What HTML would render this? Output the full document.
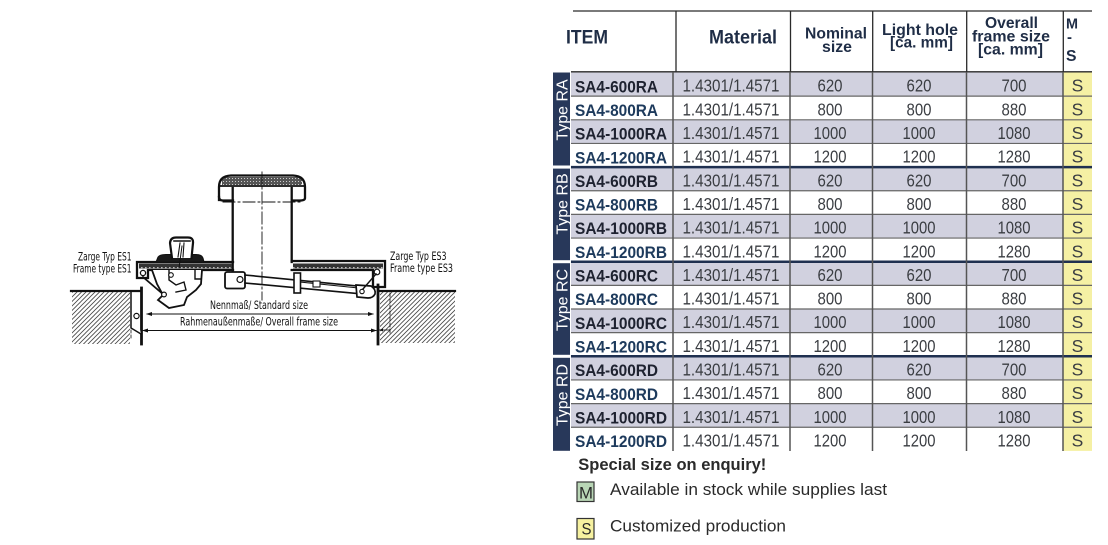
<!DOCTYPE html>
<html><head><meta charset="utf-8"><style>
html,body{margin:0;padding:0;background:#fff;}
svg{display:block;}
.hd{font-family:"Liberation Sans",Arial,sans-serif;font-weight:bold;fill:#1f2d46;}
.it{font-family:"Liberation Sans",Arial,sans-serif;font-weight:bold;font-size:16.5px;}
.nm{font-family:"Liberation Sans",Arial,sans-serif;font-size:17.5px;fill:#3a3d42;}
.dr{font-family:"DejaVu Sans Condensed","Liberation Sans Narrow","Liberation Sans",sans-serif;font-size:11.5px;fill:#111;}
.lg{font-family:"Liberation Sans",Arial,sans-serif;fill:#2a2a2a;}
</style></head><body>
<svg width="1108" height="545" viewBox="0 0 1108 545" xmlns="http://www.w3.org/2000/svg">
<defs>
<pattern id="h" patternUnits="userSpaceOnUse" width="4.5" height="4.5">
<path d="M-1,1 L1,-1 M0,4.5 L4.5,0 M3.5,5.5 L5.5,3.5" stroke="#444" stroke-width="0.8"/>
</pattern>
<pattern id="b" patternUnits="userSpaceOnUse" width="4" height="5">
<rect width="4" height="5" fill="#333"/>
<rect x="1" y="2" width="1.6" height="1.2" fill="#bbb"/>
</pattern>
<pattern id="c" patternUnits="userSpaceOnUse" width="3" height="3">
<rect width="3" height="3" fill="#555"/>
<rect x="1" y="1" width="1" height="1" fill="#ccc"/>
</pattern>
</defs>

<!-- ================= DRAWING ================= -->
<g fill="none" stroke="#111" stroke-linecap="square">
<rect x="72" y="292" width="58" height="52" fill="url(#h)" stroke="none"/>
<rect x="380" y="292" width="75" height="51" fill="url(#h)" stroke="none"/>
<line x1="71" y1="291" x2="141" y2="291" stroke-width="2.2"/>
<line x1="378" y1="291" x2="455" y2="291" stroke-width="2.2"/>
<line x1="141.5" y1="288" x2="141.5" y2="344" stroke-width="2.8"/>
<line x1="378" y1="285" x2="378" y2="344" stroke-width="2.8"/>
<path d="M131,292 L131,328 L141,334" stroke-width="1.5" fill="#fff"/>
<circle cx="136.5" cy="316" r="2.6" stroke-width="1.2" fill="#fff"/>
<line x1="131" y1="330" x2="131" y2="340" stroke-width="0.8" stroke-dasharray="3,2"/>
<line x1="390" y1="293" x2="390" y2="333" stroke-width="0.8" stroke-dasharray="4,2"/>
<path d="M379,330 L390,330" stroke-width="0.8"/>
<path d="M379,330 l4,-1.5 l0,3 z" fill="#111" stroke="none"/>

<line x1="147" y1="314" x2="373" y2="314" stroke-width="0.9"/>
<path d="M146,314 l6,-2 l0,4 z M374,314 l-6,-2 l0,4 z" fill="#111" stroke="none"/>
<line x1="143" y1="330.5" x2="376" y2="330.5" stroke-width="0.9"/>
<path d="M142,330.5 l6,-2 l0,4 z M377,330.5 l-6,-2 l0,4 z" fill="#111" stroke="none"/>

<line x1="232.7" y1="188" x2="232.7" y2="272" stroke-width="2.3"/>
<line x1="291.7" y1="188" x2="291.7" y2="262" stroke-width="2.3"/>
<rect x="222" y="177" width="80" height="8" fill="url(#c)" stroke="none"/>
<path d="M219,200 L219,187 Q219,176 231,175.5 L293,175.5 Q305,176 305,187 L305,198 Q305,200.5 300,200.5 L292,200.5" stroke-width="2.3" fill="none"/>
<path d="M233,200.5 L223,200.5 Q219,200.5 219,197" stroke-width="2.3"/>
<line x1="219" y1="186" x2="305" y2="186" stroke-width="1.8"/>
<line x1="262" y1="172" x2="262" y2="300" stroke-width="0.9" stroke-dasharray="12,3,2,3"/>
<line x1="223" y1="202" x2="303" y2="202" stroke-width="0.9" stroke-dasharray="12,3,2,3"/>

<rect x="139" y="263.5" width="93" height="5" fill="url(#b)" stroke="none"/>
<path d="M137,262 L233,262 M233,270 L148,270 L148,278 L137,278 L137,262" stroke-width="2.3"/>
<circle cx="143" cy="273" r="2.6" stroke-width="1.3" fill="#fff"/>
<path d="M156,262 L158,257 Q160,254.5 166,254.5 L196,254.5 Q202,254.5 203,258 L204,262 Z" fill="#1a1a1a" stroke-width="1"/>
<path d="M172,258 L170,243 Q170.5,237.5 176,237.5 L188,237.5 Q193.5,237.5 193,243 L191.5,258" stroke-width="2.2" fill="#fff"/>
<path d="M174,241 L190,241" stroke-width="1.6"/>
<path d="M180,243 L178,257 M184,243 L183,257" stroke-width="1.1"/>
<line x1="182" y1="246" x2="179" y2="268" stroke-width="1"/>
<path d="M152,270 L157,284 L163,295 L158,300 L169,308 L184,305 L187,297 L196,290 L201,284 L202,270" stroke-width="1.8" fill="#fff"/>
<path d="M143,277 L164,295" stroke-width="1.7"/>
<circle cx="164" cy="294.5" r="2.4" stroke-width="1.2" fill="#fff"/>
<path d="M169,270 L169,280 L176,285 L184,282 L186,290 L176,292" stroke-width="1.4"/>
<circle cx="171" cy="275" r="2.3" stroke-width="1.1" fill="#fff"/>
<path d="M195,270 L195,279 L201,279" stroke-width="1.4"/>

<rect x="293" y="263.5" width="90" height="5" fill="url(#b)" stroke="none"/>
<path d="M291.7,261 L385,261 L385,287 L373,287 L373,270 L291.7,270" stroke-width="2.3"/>
<circle cx="377" cy="272" r="2.8" stroke-width="1.2" fill="#fff"/>

<rect x="225" y="272" width="20" height="16.5" rx="2" stroke-width="1.8" fill="#fff"/>
<circle cx="240" cy="279.5" r="3" stroke-width="1.2" fill="#fff"/>
<line x1="245" y1="275" x2="357" y2="286" stroke-width="1.6"/>
<line x1="245" y1="283" x2="357" y2="293.5" stroke-width="1.6"/>
<line x1="300" y1="282" x2="358" y2="288" stroke-width="1"/>
<rect x="294" y="273" width="6.5" height="20" stroke-width="1.6" fill="#fff"/>
<rect x="313" y="281" width="7" height="6" stroke-width="1.1" fill="#fff"/>
<path d="M356,285 L371,286 Q376,289 375,294 Q373,298 368,298 L357,297 Z" stroke-width="1.7" fill="#fff"/>
<line x1="363" y1="289" x2="376" y2="274" stroke-width="1.5"/>
<circle cx="362" cy="291.5" r="2.2" stroke-width="1.1" fill="#fff"/>
</g>

<text class="dr" x="78" y="260.5" textLength="53.5" lengthAdjust="spacingAndGlyphs">Zarge Typ ES1</text>
<text class="dr" x="73" y="272.7" textLength="58.5" lengthAdjust="spacingAndGlyphs">Frame type ES1</text>
<text class="dr" x="390" y="260" textLength="56.5" lengthAdjust="spacingAndGlyphs">Zarge Typ ES3</text>
<text class="dr" x="390" y="272" textLength="63" lengthAdjust="spacingAndGlyphs">Frame type ES3</text>
<text class="dr" x="210" y="309" textLength="98" lengthAdjust="spacingAndGlyphs">Nennmaß/ Standard size</text>
<text class="dr" x="180" y="325.5" textLength="158" lengthAdjust="spacingAndGlyphs">Rahmenaußenmaße/ Overall frame size</text>

<!-- ================= TABLE ================= -->
<g>
<rect x="571" y="72.5" width="492" height="23.65" fill="#d1d1df"/>
<rect x="571" y="119.8" width="492" height="23.65" fill="#d1d1df"/>
<rect x="571" y="167.1" width="492" height="23.65" fill="#d1d1df"/>
<rect x="571" y="214.4" width="492" height="23.65" fill="#d1d1df"/>
<rect x="571" y="261.7" width="492" height="23.65" fill="#d1d1df"/>
<rect x="571" y="309.0" width="492" height="23.65" fill="#d1d1df"/>
<rect x="571" y="356.3" width="492" height="23.65" fill="#d1d1df"/>
<rect x="571" y="403.6" width="492" height="23.65" fill="#d1d1df"/>
<rect x="1063" y="72.5" width="29" height="378.4" fill="#f5f0a4"/>
</g>
<g fill="#28385a">
<rect x="553" y="72.5" width="17" height="93"/>
<rect x="553" y="168.6" width="17" height="91.6"/>
<rect x="553" y="263.2" width="17" height="91.6"/>
<rect x="553" y="357.8" width="17" height="93"/>
</g>
<g font-family="'Liberation Sans',Arial,sans-serif" font-size="16" fill="#fff" text-anchor="middle">
<text transform="translate(567.5,110) rotate(-90)">Type RA</text>
<text transform="translate(567.5,204) rotate(-90)">Type RB</text>
<text transform="translate(567.5,300) rotate(-90)">Type RC</text>
<text transform="translate(567.5,395) rotate(-90)">Type RD</text>
</g>
<g stroke="#666" stroke-width="1.2">
<line x1="571" y1="96.15" x2="1092" y2="96.15"/>
<line x1="571" y1="119.8" x2="1092" y2="119.8"/>
<line x1="571" y1="143.45" x2="1092" y2="143.45"/>
<line x1="571" y1="190.75" x2="1092" y2="190.75"/>
<line x1="571" y1="214.4" x2="1092" y2="214.4"/>
<line x1="571" y1="238.05" x2="1092" y2="238.05"/>
<line x1="571" y1="285.35" x2="1092" y2="285.35"/>
<line x1="571" y1="309.0" x2="1092" y2="309.0"/>
<line x1="571" y1="332.65" x2="1092" y2="332.65"/>
<line x1="571" y1="379.95" x2="1092" y2="379.95"/>
<line x1="571" y1="403.6" x2="1092" y2="403.6"/>
<line x1="571" y1="427.25" x2="1092" y2="427.25"/>
</g>
<g stroke="#1f3050" stroke-width="2.5">
<line x1="571" y1="167.1" x2="1092" y2="167.1"/>
<line x1="571" y1="261.7" x2="1092" y2="261.7"/>
<line x1="571" y1="356.3" x2="1092" y2="356.3"/>
</g>
<g stroke="#2a2a2a" stroke-width="1.3">
<line x1="573" y1="11" x2="1092" y2="11"/>
<line x1="571" y1="71.8" x2="1092" y2="71.8"/>
<line x1="676" y1="11" x2="676" y2="72"/>
<line x1="790.5" y1="11" x2="790.5" y2="72"/>
<line x1="872.7" y1="11" x2="872.7" y2="72"/>
<line x1="966.7" y1="11" x2="966.7" y2="72"/>
<line x1="1063.3" y1="11" x2="1063.3" y2="72"/>
</g>
<g stroke="#555" stroke-width="1.5">
<line x1="673" y1="72" x2="673" y2="451"/>
<line x1="790" y1="72" x2="790" y2="451"/>
<line x1="872.5" y1="72" x2="872.5" y2="451"/>
<line x1="966.5" y1="72" x2="966.5" y2="451"/>
<line x1="1063" y1="72" x2="1063" y2="451"/>
</g>

<text class="hd" x="566" y="43.5" font-size="19" textLength="42" lengthAdjust="spacingAndGlyphs">ITEM</text>
<text class="hd" x="709" y="43.5" font-size="19" textLength="68" lengthAdjust="spacingAndGlyphs">Material</text>
<text class="hd" x="805" y="38.5" font-size="15.5" textLength="62" lengthAdjust="spacingAndGlyphs">Nominal</text>
<text class="hd" x="822" y="52" font-size="15.5" textLength="30" lengthAdjust="spacingAndGlyphs">size</text>
<text class="hd" x="882" y="35" font-size="15.5" textLength="76" lengthAdjust="spacingAndGlyphs">Light hole</text>
<text class="hd" x="890" y="47.5" font-size="15.5" textLength="63" lengthAdjust="spacingAndGlyphs">[ca. mm]</text>
<text class="hd" x="985" y="28" font-size="15.5" textLength="53" lengthAdjust="spacingAndGlyphs">Overall</text>
<text class="hd" x="972" y="41.3" font-size="15.5" textLength="78" lengthAdjust="spacingAndGlyphs">frame size</text>
<text class="hd" x="978" y="54.5" font-size="15.5" textLength="65" lengthAdjust="spacingAndGlyphs">[ca. mm]</text>
<text class="hd" x="1066" y="28.3" font-size="15" textLength="12" lengthAdjust="spacingAndGlyphs">M</text>
<text class="hd" x="1067" y="42" font-size="15">-</text>
<text class="hd" x="1066" y="61" font-size="16" textLength="10.5" lengthAdjust="spacingAndGlyphs">S</text>

<g class="it">
<text x="575" y="92.3" fill="#1e2230" textLength="83" lengthAdjust="spacingAndGlyphs">SA4-600RA</text>
<text x="575" y="115.95" fill="#1d3a5c" textLength="83" lengthAdjust="spacingAndGlyphs">SA4-800RA</text>
<text x="575" y="139.6" fill="#1e2230" textLength="92" lengthAdjust="spacingAndGlyphs">SA4-1000RA</text>
<text x="575" y="163.25" fill="#1d3a5c" textLength="92" lengthAdjust="spacingAndGlyphs">SA4-1200RA</text>
<text x="575" y="186.9" fill="#1e2230" textLength="83" lengthAdjust="spacingAndGlyphs">SA4-600RB</text>
<text x="575" y="210.55" fill="#1d3a5c" textLength="83" lengthAdjust="spacingAndGlyphs">SA4-800RB</text>
<text x="575" y="234.2" fill="#1e2230" textLength="92" lengthAdjust="spacingAndGlyphs">SA4-1000RB</text>
<text x="575" y="257.85" fill="#1d3a5c" textLength="92" lengthAdjust="spacingAndGlyphs">SA4-1200RB</text>
<text x="575" y="281.5" fill="#1e2230" textLength="83" lengthAdjust="spacingAndGlyphs">SA4-600RC</text>
<text x="575" y="305.15" fill="#1d3a5c" textLength="83" lengthAdjust="spacingAndGlyphs">SA4-800RC</text>
<text x="575" y="328.8" fill="#1e2230" textLength="92" lengthAdjust="spacingAndGlyphs">SA4-1000RC</text>
<text x="575" y="352.45" fill="#1d3a5c" textLength="92" lengthAdjust="spacingAndGlyphs">SA4-1200RC</text>
<text x="575" y="376.1" fill="#1e2230" textLength="83" lengthAdjust="spacingAndGlyphs">SA4-600RD</text>
<text x="575" y="399.75" fill="#1d3a5c" textLength="83" lengthAdjust="spacingAndGlyphs">SA4-800RD</text>
<text x="575" y="423.4" fill="#1e2230" textLength="92" lengthAdjust="spacingAndGlyphs">SA4-1000RD</text>
<text x="575" y="447.05" fill="#1d3a5c" textLength="92" lengthAdjust="spacingAndGlyphs">SA4-1200RD</text>
</g>

<g class="nm">
<text x="682.5" y="91.7" textLength="97" lengthAdjust="spacingAndGlyphs">1.4301/1.4571</text>
<text x="682.5" y="115.35" textLength="97" lengthAdjust="spacingAndGlyphs">1.4301/1.4571</text>
<text x="682.5" y="139.0" textLength="97" lengthAdjust="spacingAndGlyphs">1.4301/1.4571</text>
<text x="682.5" y="162.65" textLength="97" lengthAdjust="spacingAndGlyphs">1.4301/1.4571</text>
<text x="682.5" y="186.3" textLength="97" lengthAdjust="spacingAndGlyphs">1.4301/1.4571</text>
<text x="682.5" y="209.95" textLength="97" lengthAdjust="spacingAndGlyphs">1.4301/1.4571</text>
<text x="682.5" y="233.6" textLength="97" lengthAdjust="spacingAndGlyphs">1.4301/1.4571</text>
<text x="682.5" y="257.25" textLength="97" lengthAdjust="spacingAndGlyphs">1.4301/1.4571</text>
<text x="682.5" y="280.9" textLength="97" lengthAdjust="spacingAndGlyphs">1.4301/1.4571</text>
<text x="682.5" y="304.55" textLength="97" lengthAdjust="spacingAndGlyphs">1.4301/1.4571</text>
<text x="682.5" y="328.2" textLength="97" lengthAdjust="spacingAndGlyphs">1.4301/1.4571</text>
<text x="682.5" y="351.85" textLength="97" lengthAdjust="spacingAndGlyphs">1.4301/1.4571</text>
<text x="682.5" y="375.5" textLength="97" lengthAdjust="spacingAndGlyphs">1.4301/1.4571</text>
<text x="682.5" y="399.15" textLength="97" lengthAdjust="spacingAndGlyphs">1.4301/1.4571</text>
<text x="682.5" y="422.8" textLength="97" lengthAdjust="spacingAndGlyphs">1.4301/1.4571</text>
<text x="682.5" y="446.45" textLength="97" lengthAdjust="spacingAndGlyphs">1.4301/1.4571</text>
</g>

<g class="nm">
<text x="817.5" y="91.7" textLength="25" lengthAdjust="spacingAndGlyphs">620</text>
<text x="906.5" y="91.7" textLength="25" lengthAdjust="spacingAndGlyphs">620</text>
<text x="1001.5" y="91.7" textLength="25" lengthAdjust="spacingAndGlyphs">700</text>
<text x="817.5" y="115.35" textLength="25" lengthAdjust="spacingAndGlyphs">800</text>
<text x="906.5" y="115.35" textLength="25" lengthAdjust="spacingAndGlyphs">800</text>
<text x="1001.5" y="115.35" textLength="25" lengthAdjust="spacingAndGlyphs">880</text>
<text x="813.5" y="139.0" textLength="33" lengthAdjust="spacingAndGlyphs">1000</text>
<text x="902.5" y="139.0" textLength="33" lengthAdjust="spacingAndGlyphs">1000</text>
<text x="997.5" y="139.0" textLength="33" lengthAdjust="spacingAndGlyphs">1080</text>
<text x="813.5" y="162.65" textLength="33" lengthAdjust="spacingAndGlyphs">1200</text>
<text x="902.5" y="162.65" textLength="33" lengthAdjust="spacingAndGlyphs">1200</text>
<text x="997.5" y="162.65" textLength="33" lengthAdjust="spacingAndGlyphs">1280</text>
<text x="817.5" y="186.3" textLength="25" lengthAdjust="spacingAndGlyphs">620</text>
<text x="906.5" y="186.3" textLength="25" lengthAdjust="spacingAndGlyphs">620</text>
<text x="1001.5" y="186.3" textLength="25" lengthAdjust="spacingAndGlyphs">700</text>
<text x="817.5" y="209.95" textLength="25" lengthAdjust="spacingAndGlyphs">800</text>
<text x="906.5" y="209.95" textLength="25" lengthAdjust="spacingAndGlyphs">800</text>
<text x="1001.5" y="209.95" textLength="25" lengthAdjust="spacingAndGlyphs">880</text>
<text x="813.5" y="233.6" textLength="33" lengthAdjust="spacingAndGlyphs">1000</text>
<text x="902.5" y="233.6" textLength="33" lengthAdjust="spacingAndGlyphs">1000</text>
<text x="997.5" y="233.6" textLength="33" lengthAdjust="spacingAndGlyphs">1080</text>
<text x="813.5" y="257.25" textLength="33" lengthAdjust="spacingAndGlyphs">1200</text>
<text x="902.5" y="257.25" textLength="33" lengthAdjust="spacingAndGlyphs">1200</text>
<text x="997.5" y="257.25" textLength="33" lengthAdjust="spacingAndGlyphs">1280</text>
<text x="817.5" y="280.9" textLength="25" lengthAdjust="spacingAndGlyphs">620</text>
<text x="906.5" y="280.9" textLength="25" lengthAdjust="spacingAndGlyphs">620</text>
<text x="1001.5" y="280.9" textLength="25" lengthAdjust="spacingAndGlyphs">700</text>
<text x="817.5" y="304.55" textLength="25" lengthAdjust="spacingAndGlyphs">800</text>
<text x="906.5" y="304.55" textLength="25" lengthAdjust="spacingAndGlyphs">800</text>
<text x="1001.5" y="304.55" textLength="25" lengthAdjust="spacingAndGlyphs">880</text>
<text x="813.5" y="328.2" textLength="33" lengthAdjust="spacingAndGlyphs">1000</text>
<text x="902.5" y="328.2" textLength="33" lengthAdjust="spacingAndGlyphs">1000</text>
<text x="997.5" y="328.2" textLength="33" lengthAdjust="spacingAndGlyphs">1080</text>
<text x="813.5" y="351.85" textLength="33" lengthAdjust="spacingAndGlyphs">1200</text>
<text x="902.5" y="351.85" textLength="33" lengthAdjust="spacingAndGlyphs">1200</text>
<text x="997.5" y="351.85" textLength="33" lengthAdjust="spacingAndGlyphs">1280</text>
<text x="817.5" y="375.5" textLength="25" lengthAdjust="spacingAndGlyphs">620</text>
<text x="906.5" y="375.5" textLength="25" lengthAdjust="spacingAndGlyphs">620</text>
<text x="1001.5" y="375.5" textLength="25" lengthAdjust="spacingAndGlyphs">700</text>
<text x="817.5" y="399.15" textLength="25" lengthAdjust="spacingAndGlyphs">800</text>
<text x="906.5" y="399.15" textLength="25" lengthAdjust="spacingAndGlyphs">800</text>
<text x="1001.5" y="399.15" textLength="25" lengthAdjust="spacingAndGlyphs">880</text>
<text x="813.5" y="422.8" textLength="33" lengthAdjust="spacingAndGlyphs">1000</text>
<text x="902.5" y="422.8" textLength="33" lengthAdjust="spacingAndGlyphs">1000</text>
<text x="997.5" y="422.8" textLength="33" lengthAdjust="spacingAndGlyphs">1080</text>
<text x="813.5" y="446.45" textLength="33" lengthAdjust="spacingAndGlyphs">1200</text>
<text x="902.5" y="446.45" textLength="33" lengthAdjust="spacingAndGlyphs">1200</text>
<text x="997.5" y="446.45" textLength="33" lengthAdjust="spacingAndGlyphs">1280</text>
</g>

<g class="nm" fill="#333" text-anchor="middle">
<text x="1077.5" y="91.7">S</text>
<text x="1077.5" y="115.35">S</text>
<text x="1077.5" y="139.0">S</text>
<text x="1077.5" y="162.65">S</text>
<text x="1077.5" y="186.3">S</text>
<text x="1077.5" y="209.95">S</text>
<text x="1077.5" y="233.6">S</text>
<text x="1077.5" y="257.25">S</text>
<text x="1077.5" y="280.9">S</text>
<text x="1077.5" y="304.55">S</text>
<text x="1077.5" y="328.2">S</text>
<text x="1077.5" y="351.85">S</text>
<text x="1077.5" y="375.5">S</text>
<text x="1077.5" y="399.15">S</text>
<text x="1077.5" y="422.8">S</text>
<text x="1077.5" y="446.45">S</text>
</g>

<text class="lg" x="578.3" y="470" font-size="16.3" font-weight="bold" fill="#151515" textLength="188" lengthAdjust="spacingAndGlyphs">Special size on enquiry!</text>
<rect x="577" y="482" width="17" height="19.5" fill="#b9d6b6" stroke="#333" stroke-width="1.2"/>
<text class="lg" x="579" y="498.3" font-size="17" textLength="14" lengthAdjust="spacingAndGlyphs">M</text>
<text class="lg" x="610" y="495" font-size="17" textLength="277" lengthAdjust="spacingAndGlyphs">Available in stock while supplies last</text>
<rect x="577" y="518.5" width="17" height="20.5" fill="#f6f1a0" stroke="#333" stroke-width="1.2"/>
<text class="lg" x="581.5" y="534.5" font-size="17" textLength="10" lengthAdjust="spacingAndGlyphs">S</text>
<text class="lg" x="610" y="531.7" font-size="17" textLength="176" lengthAdjust="spacingAndGlyphs">Customized production</text>
</svg>
</body></html>
